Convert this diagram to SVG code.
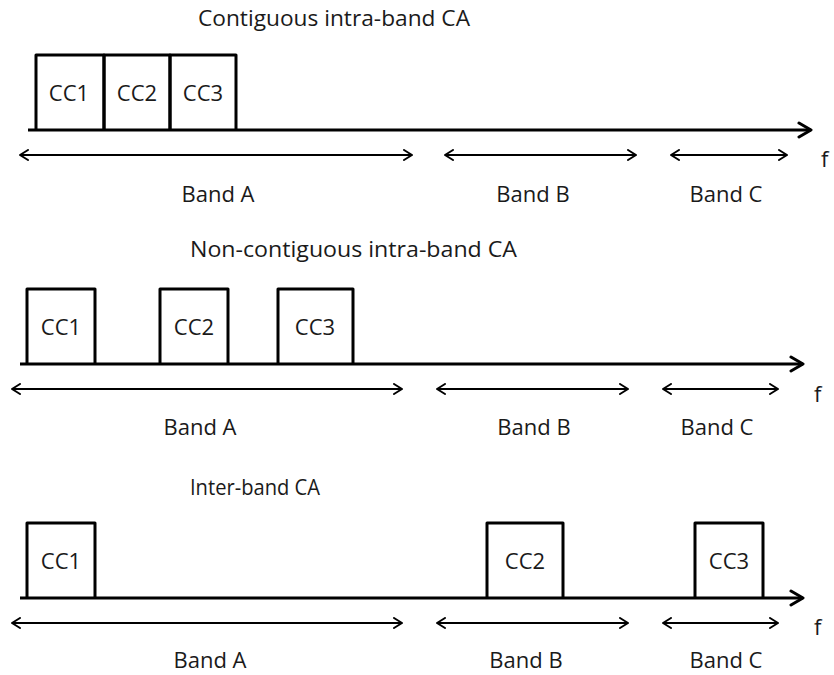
<svg xmlns="http://www.w3.org/2000/svg" width="834" height="675" viewBox="0 0 834 675">
<style>
text{font-family:"Open Sans","Liberation Sans",Arial,sans-serif;font-size:22px;fill:#1a1a1a}
.t{font-size:22px}
.m{text-anchor:middle}
.box{fill:none;stroke:#000;stroke-width:3;stroke-linejoin:round}
.axis{stroke:#000;stroke-width:3;fill:none;marker-end:url(#big)}
.band{stroke:#000;stroke-width:2;fill:none;marker-start:url(#chev);marker-end:url(#chev)}
</style>
<defs>
<marker id="chev" viewBox="0 0 10 12" refX="9" refY="6" markerWidth="10" markerHeight="12" markerUnits="userSpaceOnUse" orient="auto-start-reverse"><path d="M1,1 L9,6 L1,11" fill="none" stroke="#000" stroke-width="2" stroke-linecap="round" stroke-linejoin="round"/></marker>
<marker id="big" viewBox="0 0 16 18" refX="14" refY="9" markerWidth="16" markerHeight="18" markerUnits="userSpaceOnUse" orient="auto"><path d="M2,2 L14,9 L2,16" fill="none" stroke="#000" stroke-width="3" stroke-linecap="round" stroke-linejoin="round"/></marker>
</defs>

<g id="titles">
<text class="t" x="198" y="26" textLength="272" lengthAdjust="spacingAndGlyphs">Contiguous intra-band CA</text>
<text class="t" x="190" y="257" textLength="327" lengthAdjust="spacingAndGlyphs">Non-contiguous intra-band CA</text>
<text class="t" x="190" y="495" textLength="130" lengthAdjust="spacingAndGlyphs">Inter-band CA</text>
</g>

<g id="connectors">
<line class="axis" x1="28" y1="130" x2="811" y2="130"/>
<line class="band" x1="20" y1="155" x2="412" y2="155"/>
<line class="band" x1="445" y1="155" x2="636" y2="155"/>
<line class="band" x1="671" y1="155" x2="787" y2="155"/>

<line class="axis" x1="20" y1="364" x2="803" y2="364"/>
<line class="band" x1="12" y1="389" x2="402" y2="389"/>
<line class="band" x1="437" y1="389" x2="628" y2="389"/>
<line class="band" x1="663" y1="389" x2="778" y2="389"/>

<line class="axis" x1="20" y1="598" x2="803" y2="598"/>
<line class="band" x1="12" y1="623" x2="402" y2="623"/>
<line class="band" x1="437" y1="623" x2="628" y2="623"/>
<line class="band" x1="663" y1="623" x2="778" y2="623"/>
</g>

<g id="s1-cc1"><path class="box" d="M36,130 V55 H104 V130"/><text class="m" x="69" y="101">CC1</text></g>
<g id="s1-cc2"><path class="box" d="M104,130 V55 H170 V130"/><text class="m" x="137" y="101">CC2</text></g>
<g id="s1-cc3"><path class="box" d="M170,130 V55 H236 V130"/><text class="m" x="203" y="101">CC3</text></g>

<g id="s2-cc1"><path class="box" d="M27,364 V289 H95 V364"/><text class="m" x="61" y="335">CC1</text></g>
<g id="s2-cc2"><path class="box" d="M160,364 V289 H228 V364"/><text class="m" x="194" y="335">CC2</text></g>
<g id="s2-cc3"><path class="box" d="M278,364 V289 H353 V364"/><text class="m" x="315" y="335">CC3</text></g>

<g id="s3-cc1"><path class="box" d="M27,598 V523 H95 V598"/><text class="m" x="61" y="569">CC1</text></g>
<g id="s3-cc2"><path class="box" d="M487,598 V523 H563 V598"/><text class="m" x="525" y="569">CC2</text></g>
<g id="s3-cc3"><path class="box" d="M695,598 V523 H763 V598"/><text class="m" x="729" y="569">CC3</text></g>

<g id="labels">
<text class="m" x="218" y="202">Band A</text>
<text class="m" x="533" y="202">Band B</text>
<text class="m" x="726" y="202">Band C</text>
<text x="821" y="167">f</text>

<text class="m" x="200" y="435">Band A</text>
<text class="m" x="534" y="435">Band B</text>
<text class="m" x="717" y="435">Band C</text>
<text x="814" y="402">f</text>

<text class="m" x="210" y="668">Band A</text>
<text class="m" x="526" y="668">Band B</text>
<text class="m" x="726" y="668">Band C</text>
<text x="814" y="635">f</text>
</g>
</svg>
